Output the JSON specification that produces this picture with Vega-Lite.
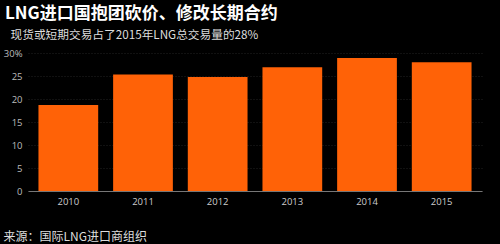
{
  "$schema": "https://vega.github.io/schema/vega-lite/v6.json",
  "width": 454,
  "height": 138,
  "autosize": "none",
  "padding": {"left": 28, "top": 53, "right": 18, "bottom": 53},
  "background": "#000000",
  "config": {
    "view": {"stroke": null},
    "font": "Noto Sans CJK SC"
  },
  "title": {
    "text": "LNG进口国抱团砍价、修改长期合约",
    "anchor": "start",
    "frame": "group",
    "color": "#ffffff",
    "fontSize": 17,
    "fontWeight": "bold",
    "font": "Noto Sans CJK SC",
    "dx": -23,
    "dy": 2,
    "offset": 8
  },
  "data": {
    "values": [
      {"year": "2010", "share": 18.7},
      {"year": "2011", "share": 25.3},
      {"year": "2012", "share": 24.8},
      {"year": "2013", "share": 26.9},
      {"year": "2014", "share": 28.9},
      {"year": "2015", "share": 28.0}
    ]
  },
  "mark": {"type": "bar", "color": "#ff6207"},
  "encoding": {
    "x": {
      "field": "year",
      "type": "nominal",
      "scale": {"paddingInner": 0.2, "paddingOuter": 0.14},
      "axis": {
        "title": "来源：国际LNG进口商组织",
        "titleColor": "#dddddd",
        "titleFontSize": 12,
        "titleFontWeight": "normal",
        "titleFont": "Noto Sans CJK SC",
        "titleAnchor": "start",
        "titleAlign": "left",
        "titleBaseline": "alphabetic",
        "titleX": -25,
        "titleY": 49,
        "labelAngle": 0,
        "labelColor": "#cccccc",
        "labelFontSize": 9.5,
        "labelFont": "Open Sans",
        "labelPadding": 5,
        "ticks": false,
        "domainColor": "#777777",
        "domainWidth": 1
      }
    },
    "y": {
      "field": "share",
      "type": "quantitative",
      "scale": {"domain": [0, 30]},
      "axis": {
        "values": [0, 5, 10, 15, 20, 25, 30],
        "labelExpr": "datum.value == 30 ? '30%' : datum.label",
        "title": "现货或短期交易占了2015年LNG总交易量的28%",
        "titleAngle": 0,
        "titleAlign": "left",
        "titleBaseline": "alphabetic",
        "titleColor": "#dddddd",
        "titleFontSize": 11.7,
        "titleFontWeight": "normal",
        "titleFont": "Noto Sans CJK SC",
        "titleX": -18,
        "titleY": -15,
        "labelColor": "#bbbbbb",
        "labelFontSize": 9.5,
        "labelFont": "Open Sans",
        "labelPadding": 6,
        "ticks": false,
        "domain": false,
        "grid": true,
        "gridColor": "#222222",
        "gridDash": [1, 2],
        "gridWidth": 1
      }
    }
  }
}
